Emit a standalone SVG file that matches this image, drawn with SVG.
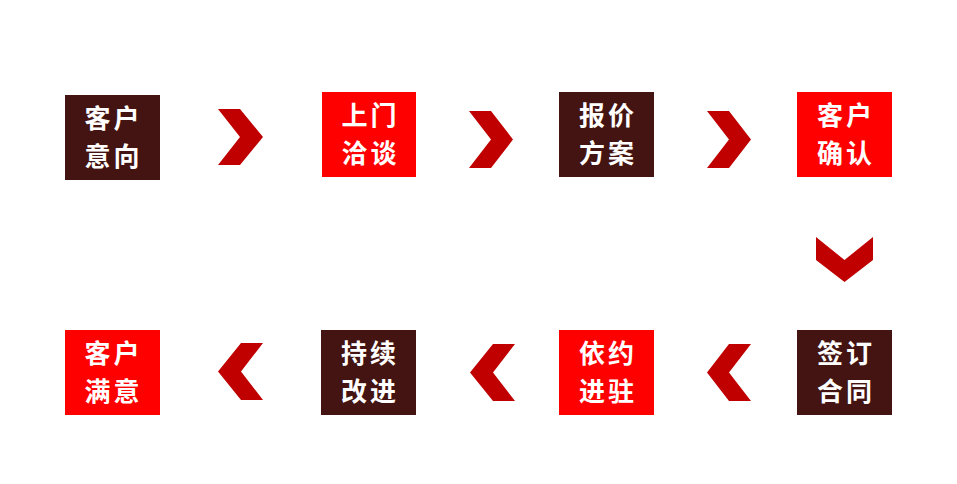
<svg xmlns="http://www.w3.org/2000/svg" width="957" height="484" viewBox="0 0 957 484">
<style>
.dark{fill:#431411}
.red{fill:#FF0000}
.chev{fill:#C00000}
.t{fill:#FFFFFF;font-family:"Noto Sans CJK SC","Noto Sans CJK TC",sans-serif;font-size:26px;font-weight:700;text-anchor:middle;letter-spacing:3px}
</style>
<rect width="957" height="484" fill="#FFFFFF"/>
<g id="n1"><rect class="dark" x="65" y="95" width="95" height="85"/><text class="t" x="113.5" y="128">客户</text><text class="t" x="113.5" y="166">意向</text></g>
<g id="n2"><rect class="red" x="322" y="92" width="94" height="85"/><text class="t" x="370.5" y="125">上门</text><text class="t" x="370.5" y="163">洽谈</text></g>
<g id="n3"><rect class="dark" x="559" y="92" width="95" height="85"/><text class="t" x="608" y="125">报价</text><text class="t" x="608" y="163">方案</text></g>
<g id="n4"><rect class="red" x="797" y="92" width="95" height="85"/><text class="t" x="846" y="125">客户</text><text class="t" x="846" y="163">确认</text></g>
<g id="n5"><rect class="dark" x="797" y="330" width="95" height="85"/><text class="t" x="846" y="363">签订</text><text class="t" x="846" y="401">合同</text></g>
<g id="n6"><rect class="red" x="559" y="330" width="95" height="85"/><text class="t" x="608" y="363">依约</text><text class="t" x="608" y="401">进驻</text></g>
<g id="n7"><rect class="dark" x="321" y="330" width="95" height="85"/><text class="t" x="370" y="363">持续</text><text class="t" x="370" y="401">改进</text></g>
<g id="n8"><rect class="red" x="65" y="330" width="95" height="85"/><text class="t" x="113.5" y="363">客户</text><text class="t" x="113.5" y="401">满意</text></g>
<g id="connectors">
<polygon class="chev" points="218,109 240,109 263,137 240,165 218,165 240,137"/>
<polygon class="chev" points="469,111 491,111 513,139.5 491,168 469,168 491,139.5"/>
<polygon class="chev" points="707,111 729,111 751,139.5 729,168 707,168 729,139.5"/>
<polygon class="chev" points="816,237 844.5,260 873,237 873,260 844.5,282 816,260"/>
<polygon class="chev" points="751,344 729,344 707,372.5 729,401 751,401 729,372.5"/>
<polygon class="chev" points="515,344 493,344 470,372.5 493,401 515,401 493,372.5"/>
<polygon class="chev" points="263,343 241,343 218,371.5 241,400 263,400 241,371.5"/>
</g>
</svg>
